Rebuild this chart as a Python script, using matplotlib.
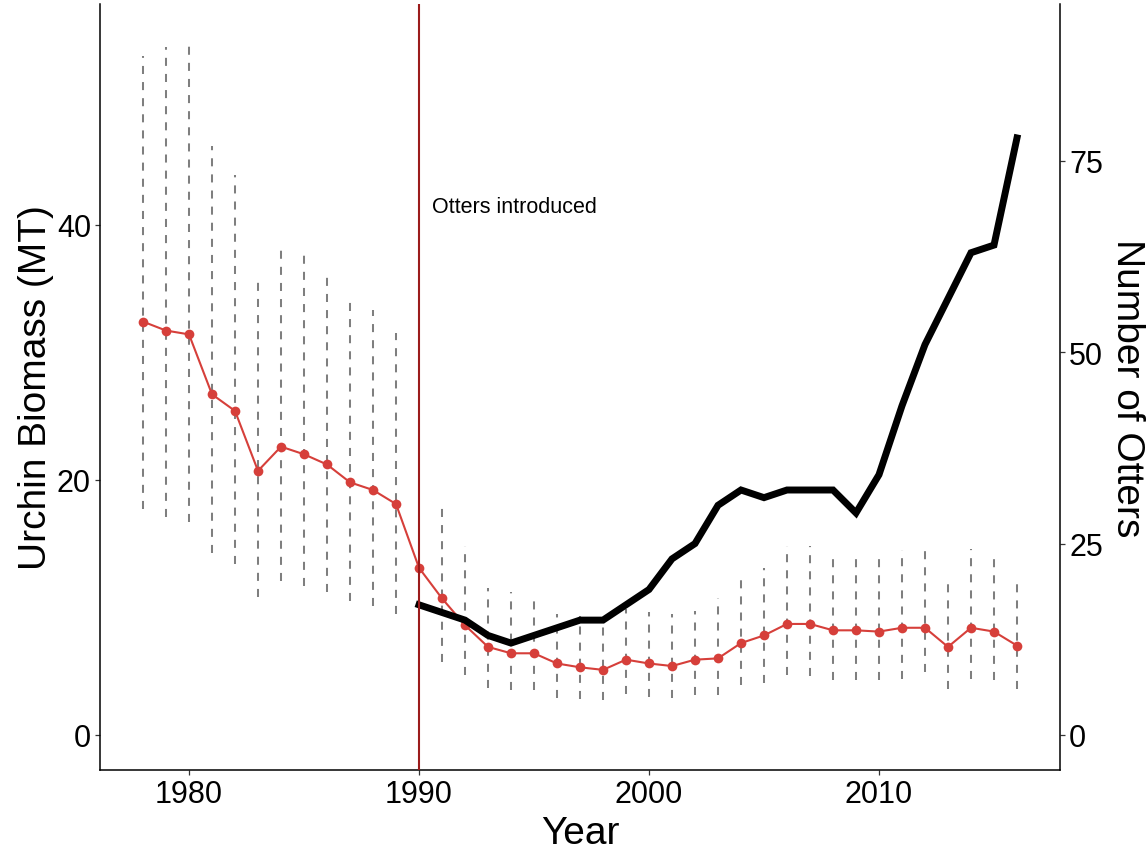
import matplotlib
matplotlib.use("Agg")
import matplotlib.pyplot as plt
import numpy as np

plt.rcParams['font.family'] = ['Liberation Sans', 'DejaVu Sans']

# Survey years
years = list(range(1978, 2017))

# Urchin biomass estimate (MT) with lower / upper interval bounds
biomass = [32.4, 31.7, 31.4, 26.7, 25.4, 20.7, 22.6, 22.0, 21.2, 19.8, 19.2, 18.1,
           13.1, 10.7, 8.6, 6.9, 6.4, 6.4, 5.6, 5.3, 5.1, 5.9, 5.6, 5.4, 5.9, 6.0,
           7.2, 7.8, 8.7, 8.7, 8.2, 8.2, 8.1, 8.4, 8.4, 6.9, 8.4, 8.1, 7.0]
lower = [17.7, 17.1, 16.7, 14.3, 13.4, 10.8, 12.1, 11.7, 11.2, 10.5, 10.1, 9.5,
         None, 5.7, 4.7, 3.7, 3.5, 3.5, 2.9, 2.8, 2.7, 3.2, 3.0, 2.9, 3.1, 3.1,
         3.9, 4.1, 4.7, 4.6, 4.3, 4.3, 4.3, 4.4, 4.9, 3.6, 4.4, 4.3, 3.6]
upper = [53.2, 53.9, 54.5, 46.2, 43.9, 35.5, 38.6, 37.6, 35.9, 34.0, 33.3, 31.5,
         None, 18.3, 14.8, 11.5, 11.2, 10.8, 9.5, 9.3, 9.2, 9.9, 9.6, 9.5, 9.7, 10.7,
         12.4, 13.1, 14.8, 14.8, 14.1, 14.2, 14.0, 14.5, 14.5, 12.2, 14.6, 14.0, 12.3]

# Sea otter counts after reintroduction
otter_years = list(range(1990, 2017))
otters = [17, 16, 15, 13, 12, 13, 14, 15, 15, 17, 19, 23, 25, 30, 32, 31, 32, 32,
          32, 29, 34, 43, 51, 57, 63, 64, 78]

intro_year = 1990
otter_scale = 0.6  # biomass units per otter on the shared vertical scale

fig = plt.figure(figsize=(11.48, 8.53), dpi=100)
ax = fig.add_axes([100 / 1148, 1 - 771 / 853, 960 / 1148, 766 / 853])

# Interval bars
for yr, lo, hi in zip(years, lower, upper):
    if lo is None:
        continue
    ax.plot([yr, yr], [lo, hi], color='#7f7f7f', lw=1.45, dashes=(4, 4),
            solid_capstyle='butt', dash_capstyle='butt', zorder=1)

# Biomass series
ax.plot(years, biomass, color='#d63f3a', lw=1.5, marker='o', ms=7,
        markeredgewidth=0, zorder=3)

ax.text(1990.57, 41.45, 'Otters introduced', fontsize=15.5, ha='left', va='center',
        color='black')

ylo, yhi = -2.75, 57.3
ax.set_xlim(1976.13, 2017.87)
ax.set_ylim(ylo, yhi)
ax.set_xticks([1980, 1990, 2000, 2010])
ax.set_yticks([0, 20, 40])

ax2 = ax.twinx()
ax2.set_ylim(ylo / otter_scale, yhi / otter_scale)
ax2.set_yticks([0, 25, 50, 75])

ax2.plot(otter_years, otters, color='black', lw=5, solid_joinstyle='miter',
         zorder=3)
ax2.axvline(intro_year, color='#9b1b1b', lw=1.5, zorder=4)

for a in (ax, ax2):
    a.spines['top'].set_visible(False)
    for s in a.spines.values():
        s.set_linewidth(1.1)
        s.set_color('black')
    a.tick_params(labelsize=22, length=3.5, width=0.9, color='#333333',
                  labelcolor='black', pad=3)
ax.spines['right'].set_visible(False)
ax2.spines['left'].set_visible(False)
ax2.spines['bottom'].set_visible(False)

ax.set_xlabel('Year', fontsize=28, labelpad=4)
ax.set_ylabel('Urchin Biomass (MT)', fontsize=28, labelpad=2)
ax2.set_ylabel('Number of Otters', fontsize=28, rotation=270, labelpad=30)

fig.savefig('out.png', dpi=100)
